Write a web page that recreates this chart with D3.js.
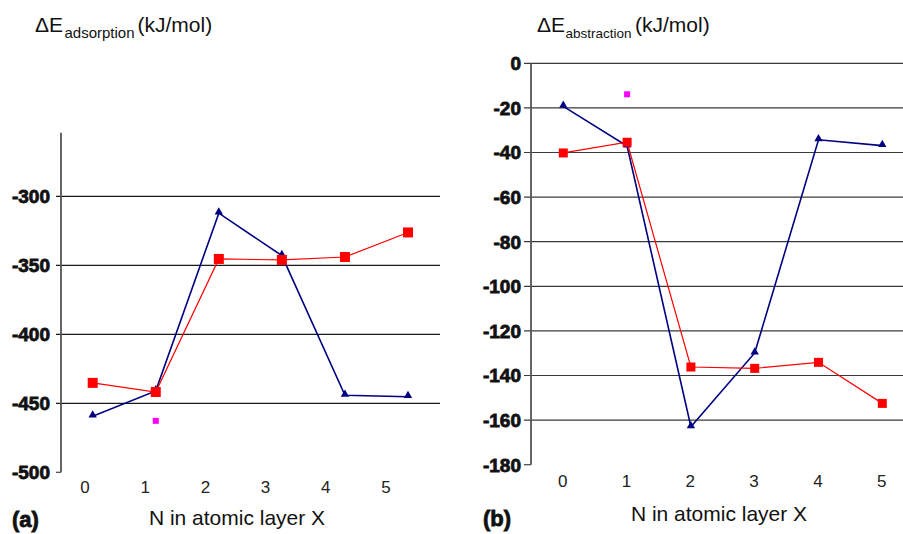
<!DOCTYPE html>
<html>
<head>
<meta charset="utf-8">
<script src="https://cdn.jsdelivr.net/npm/d3@7"></script>
<style>
  body { margin: 0; background: #fff; }
  svg { display: block; font-family: "Liberation Sans", Arial, Helvetica, sans-serif; }
  .bold { font-weight: 700; stroke: #111; stroke-width: 0.8px; }
</style>
</head>
<body>
<svg id="chart" width="903" height="534"></svg>
<script>
// N in atomic layer X
const layers = [0, 1, 2, 3, 4, 5];

// (a) adsorption energies, kJ/mol
const adsRed = [-435.2, -441.8, -345.4, -346.1, -344.0, -326.2];
const adsBlue = [-459.3, -441.0, -312.2, -343.0, -444.2, -445.2];
const adsPink = [{ n: 1, v: -462.7 }];
const adsTicks = [-500, -450, -400, -350, -300];

// (b) abstraction energies, kJ/mol
const absRed = [-40.2, -35.4, -136.2, -136.8, -134.1, -152.5];
const absBlue = [-19.3, -37.1, -163.0, -129.9, -34.3, -36.9];
const absPink = [{ n: 1, v: -13.9 }];
const absTicks = [0, -20, -40, -60, -80, -100, -120, -140, -160, -180];

const svg = d3.select("#chart");
const navy = "#000080", red = "#ff0000", pink = "#ff00ff";

function drawPanel(opt) {
  const g = svg.append("g");
  const y = opt.y, x = opt.x, xLab = opt.xLab;

  // gridlines
  g.append("g").selectAll("line")
    .data(opt.ticks.filter(t => t !== opt.bottom))
    .join("line")
    .attr("x1", opt.axisX - opt.tickLen).attr("x2", opt.gridEnd)
    .attr("y1", d => y(d)).attr("y2", d => y(d))
    .attr("stroke", opt.gridColor).attr("stroke-width", 1.2);

  // bottom tick
  g.append("line")
    .attr("x1", opt.axisX - opt.tickLen).attr("x2", opt.axisX)
    .attr("y1", y(opt.bottom)).attr("y2", y(opt.bottom))
    .attr("stroke", "#444").attr("stroke-width", 1.2);

  // y axis line
  g.append("line")
    .attr("x1", opt.axisX).attr("x2", opt.axisX)
    .attr("y1", y(opt.top)).attr("y2", y(opt.bottom))
    .attr("stroke", "#555").attr("stroke-width", 1.8);

  // y tick labels
  g.append("g").selectAll("text")
    .data(opt.ticks)
    .join("text")
    .attr("class", "bold")
    .attr("x", opt.labelRight)
    .attr("y", d => y(d))
    .attr("dy", "0.36em")
    .attr("text-anchor", "end")
    .style("font-size", opt.tickFont + "px")
    .attr("fill", "#111")
    .text(d => d);

  // x tick labels
  g.append("g").selectAll("text")
    .data(layers)
    .join("text")
    .attr("x", d => xLab(d))
    .attr("y", opt.xLabelY)
    .attr("text-anchor", "middle")
    .style("font-size", "17px")
    .attr("fill", "#222")
    .text(d => d);

  const line = d3.line().x((d, i) => x(layers[i])).y(d => y(d));

  // blue series
  g.append("path").datum(opt.blue)
    .attr("d", line).attr("fill", "none")
    .attr("stroke", navy).attr("stroke-width", 1.6);
  g.append("g").selectAll("path")
    .data(opt.blue)
    .join("path")
    .attr("transform", (d, i) => `translate(${x(layers[i])},${y(d) - 1})`)
    .attr("d", d3.symbol(d3.symbolTriangle, 30))
    .attr("fill", navy);

  // red series
  g.append("path").datum(opt.red)
    .attr("d", line).attr("fill", "none")
    .attr("stroke", red).attr("stroke-width", 1.2);
  g.append("g").selectAll("rect")
    .data(opt.red)
    .join("rect")
    .attr("x", (d, i) => x(layers[i]) - opt.sq / 2)
    .attr("y", d => y(d) - opt.sq / 2)
    .attr("width", opt.sq).attr("height", opt.sq)
    .attr("fill", red);

  // single magenta point
  g.append("g").selectAll("rect")
    .data(opt.pink)
    .join("rect")
    .attr("x", d => x(d.n) - 3)
    .attr("y", d => y(d.v) - 3)
    .attr("width", 6).attr("height", 6)
    .attr("fill", pink);

  // title
  const t = g.append("text").attr("y", 31.7).attr("fill", "#111");
  t.append("tspan").attr("x", opt.titleX).style("font-size", "21px").text("\u0394E");
  t.append("tspan").attr("x", opt.subX).attr("dy", 6.3).style("font-size", opt.subFont + "px").text(opt.sub);
  t.append("tspan").attr("x", opt.unitX).attr("dy", -6.3).style("font-size", "21px").text("(kJ/mol)");

  // x title and panel letter
  g.append("text")
    .attr("x", opt.xTitleX).attr("y", opt.xTitleY)
    .attr("text-anchor", "middle")
    .style("font-size", "21px").attr("fill", "#111")
    .text("N in atomic layer X");
  g.append("text")
    .attr("class", "bold")
    .attr("x", opt.letterX).attr("y", opt.letterY)
    .style("font-size", "22px").attr("fill", "#111")
    .text(opt.letter);
}

drawPanel({
  y: d3.scaleLinear().domain([-500, -300]).range([472.3, 196.3]),
  x: d3.scaleLinear().domain([0, 5]).range([92.7, 408]),
  xLab: d3.scaleLinear().domain([0, 5]).range([85, 386]),
  ticks: adsTicks, top: -254, bottom: -500,
  red: adsRed, blue: adsBlue, pink: adsPink,
  axisX: 61, tickLen: 5, gridEnd: 440, gridColor: "#1a1a1a",
  labelRight: 50, tickFont: 19, xLabelY: 493, sq: 10,
  titleX: 35, subX: 64.5, subFont: 15, sub: "adsorption", unitX: 137.5,
  xTitleX: 237, xTitleY: 525, letter: "(a)", letterX: 12, letterY: 527
});

drawPanel({
  y: d3.scaleLinear().domain([0, -180]).range([63.3, 464.7]),
  x: d3.scaleLinear().domain([0, 5]).range([563.3, 882.3]),
  xLab: d3.scaleLinear().domain([0, 5]).range([562.7, 881.7]),
  ticks: absTicks, top: 0, bottom: -180,
  red: absRed, blue: absBlue, pink: absPink,
  axisX: 531, tickLen: 7, gridEnd: 903, gridColor: "#3a3a3a",
  labelRight: 521, tickFont: 19, xLabelY: 487, sq: 9,
  titleX: 537, subX: 565.5, subFont: 13.5, sub: "abstraction", unitX: 635,
  xTitleX: 719, xTitleY: 521, letter: "(b)", letterX: 483, letterY: 526
});
</script>
</body>
</html>
